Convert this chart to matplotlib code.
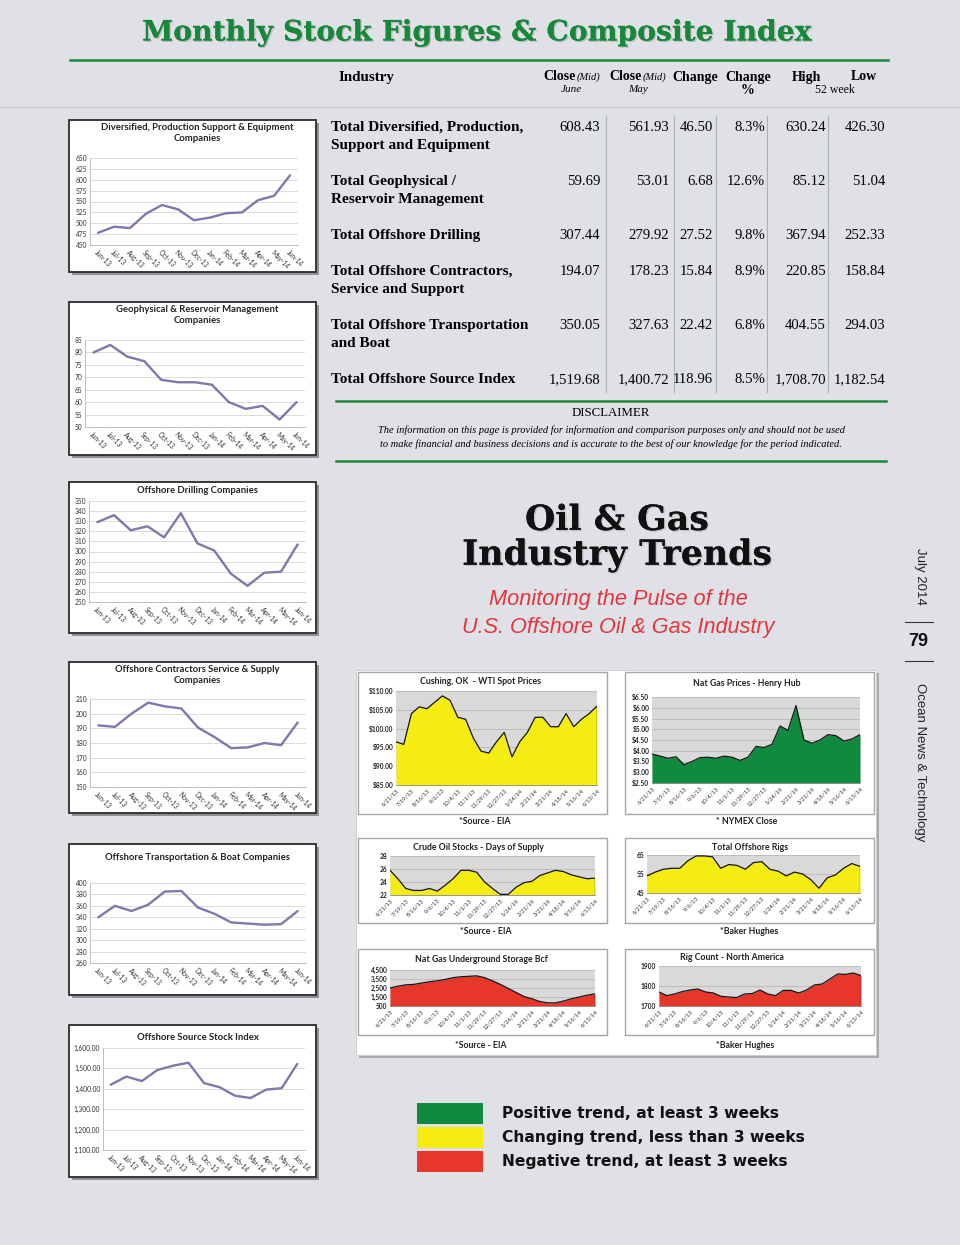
import matplotlib
matplotlib.use('Agg')
import matplotlib.pyplot as plt
from matplotlib.patches import Rectangle
from matplotlib.ticker import FuncFormatter
import matplotlib.patheffects as pe
import numpy as np

W, H = 960, 1245
BG = '#dfe1e6'

# ---------------- data ----------------
months = ['Jun-13', 'Jul-13', 'Aug-13', 'Sep-13', 'Oct-13', 'Nov-13', 'Dec-13',
          'Jan-14', 'Feb-14', 'Mar-14', 'Apr-14', 'May-14', 'Jun-14']
diversified = [478, 492, 489, 522, 542, 532, 507, 513, 523, 525, 553, 563, 610]
geophysical = [80, 83, 78.3, 76.5, 69, 68, 68, 67, 60, 57.3, 58.5, 53, 60]
drilling = [329, 336, 321, 325, 314, 338, 308, 301, 278, 266, 279, 280, 307]
contractors = [192, 191, 200, 207.5, 205, 203.5, 190.5, 184, 176.5, 177, 180, 178.5, 194]
transport = [340, 360, 351, 362, 385, 386, 357, 346, 331, 329, 327, 328, 351]
source_index = [1420, 1460, 1438, 1492, 1513, 1528, 1428, 1408, 1366, 1355, 1396, 1403, 1522]

table_rows = ['Total Diversified, Production,\nSupport and Equipment',
              'Total Geophysical /\nReservoir Management',
              'Total Offshore Drilling',
              'Total Offshore Contractors,\nService and Support',
              'Total Offshore Transportation\nand Boat',
              'Total Offshore Source Index']
close_june = [608.43, 59.69, 307.44, 194.07, 350.05, 1519.68]
close_may = [561.93, 53.01, 279.92, 178.23, 327.63, 1400.72]
change = [46.50, 6.68, 27.52, 15.84, 22.42, 118.96]
change_pct = [8.3, 12.6, 9.8, 8.9, 6.8, 8.5]
high_52 = [630.24, 85.12, 367.94, 220.85, 404.55, 1708.70]
low_52 = [426.30, 51.04, 252.33, 158.84, 294.03, 1182.54]

weekly_labels = ['6/21/13', '7/19/13', '8/16/13', '9/6/13', '10/4/13', '11/1/13', '11/29/13',
                 '12/27/13', '1/24/14', '2/21/14', '3/21/14', '4/18/14', '5/16/14', '6/13/14']
wti = [96.5, 95.8, 104, 105.8, 105.3, 107, 108.7, 107.5, 103, 102.5, 97.5, 94, 93.5, 96.5,
       99, 92.5, 96.5, 99, 103, 103, 100.5, 100.5, 104, 100.5, 102.5, 104, 106]
natgas = [3.85, 3.75, 3.65, 3.72, 3.35, 3.5, 3.68, 3.7, 3.65, 3.75, 3.7, 3.55, 3.7, 4.2,
          4.15, 4.3, 5.15, 4.95, 6.1, 4.5, 4.35, 4.5, 4.75, 4.7, 4.45, 4.55, 4.75]
crude_days = [25.8, 24.5, 23, 22.7, 22.7, 23, 22.6, 23.5, 24.5, 25.8, 25.8, 25.5, 24, 23,
              22.1, 22.1, 23.2, 23.9, 24.1, 25, 25.4, 25.8, 25.6, 25.1, 24.8, 24.5, 24.6]
offshore_rigs = [54, 56, 57.5, 58, 58, 62, 64.5, 64.5, 64, 58, 60, 59.5, 57.5, 61,
                 61.5, 57.5, 56.5, 54, 56, 55, 52, 47.5, 53, 54.5, 58, 60.5, 59]
storage = [2500, 2700, 2850, 2900, 3050, 3200, 3300, 3450, 3650, 3750, 3800, 3850, 3650, 3300,
           2900, 2450, 2000, 1550, 1300, 1000, 850, 850, 1050, 1300, 1500, 1700, 1850]
rig_na = [1770, 1752, 1760, 1772, 1780, 1785, 1770, 1765, 1748, 1745, 1742, 1760, 1762, 1780,
          1760, 1752, 1778, 1778, 1765, 1780, 1805, 1810, 1835, 1860, 1858, 1865, 1852]

legend_labels = ['Positive trend, at least 3 weeks',
                 'Changing trend, less than 3 weeks',
                 'Negative trend, at least 3 weeks']
GREEN = '#0f8a3e'
YELLOW = '#f5ed12'
RED = '#e6372a'
legend_colors = [GREEN, YELLOW, RED]

# ---------------- figure ----------------
fig = plt.figure(figsize=(9.6, 12.45), dpi=100, facecolor=BG)
ov = fig.add_axes([0, 0, 1, 1], zorder=0)
ov.set_xlim(0, W)
ov.set_ylim(H, 0)
ov.axis('off')


def px_axes(x0, y0, x1, y1, z=2):
    return fig.add_axes([x0 / W, 1 - y1 / H, (x1 - x0) / W, (y1 - y0) / H], zorder=z)


SERIF = 'Liberation Serif'

# Title
ov.text(478, 33, 'Monthly Stock Figures & Composite Index', ha='center', va='center',
        fontsize=20.3, fontweight='bold', family='DejaVu Serif', color='#17873a',
        path_effects=[pe.withSimplePatchShadow(offset=(1.0, -1.0), shadow_rgbFace='#888', alpha=0.4),
                      pe.Normal()])
ov.plot([70, 888], [60, 60], color='#1a8a3c', lw=1.8)
ov.plot([0, 960], [107, 107], color='#c4c7cc', lw=0.8)

# Table header
hs = 10
ov.text(339, 77, 'Industry', fontsize=10.8, fontweight='bold', family=SERIF, va='center')
ov.text(543, 77, 'Close', fontsize=hs, fontweight='bold', family=SERIF, va='center')
ov.text(577, 77.5, '(Mid)', fontsize=7.5, style='italic', family=SERIF, va='center')
ov.text(571, 90, 'June', fontsize=8, style='italic', family=SERIF, va='center', ha='center')
ov.text(609, 77, 'Close', fontsize=hs, fontweight='bold', family=SERIF, va='center')
ov.text(643, 77.5, '(Mid)', fontsize=7.5, style='italic', family=SERIF, va='center')
ov.text(638, 90, 'May', fontsize=8, style='italic', family=SERIF, va='center', ha='center')
ov.text(695, 77, 'Change', fontsize=hs, fontweight='bold', family=SERIF, va='center', ha='center')
ov.text(748, 77, 'Change', fontsize=hs, fontweight='bold', family=SERIF, va='center', ha='center')
ov.text(748, 90, '%', fontsize=hs, fontweight='bold', family=SERIF, va='center', ha='center')
ov.text(806, 77, 'High', fontsize=hs, fontweight='bold', family=SERIF, va='center', ha='center')
ov.text(864, 77, 'Low', fontsize=hs, fontweight='bold', family=SERIF, va='center', ha='center')
ov.text(835, 90, '52 week', fontsize=8.5, family=SERIF, va='center', ha='center')

row_y = [126, 180, 234, 270, 324, 378]
col_right = [600, 669, 713, 765, 826, 885]
for i, lab in enumerate(table_rows):
    y = row_y[i]
    for k, line in enumerate(lab.split('\n')):
        ov.text(331, y + 5 + 18 * k, line, fontsize=11, fontweight='bold', family=SERIF,
                va='baseline')
    vals = [f'{close_june[i]:,.2f}', f'{close_may[i]:,.2f}', f'{change[i]:,.2f}',
            f'{change_pct[i]:.1f}%', f'{high_52[i]:,.2f}', f'{low_52[i]:,.2f}']
    for xr, v in zip(col_right, vals):
        ov.text(xr, y + 5, v, fontsize=10.6, family=SERIF, va='baseline', ha='right')
for xv in [606, 674, 716, 767, 828]:
    ov.plot([xv, xv], [116, 392], color='#a9b3ad', lw=0.8)

ov.plot([336, 886], [401, 401], color='#1a8a3c', lw=1.8)
ov.text(611, 413, 'DISCLAIMER', fontsize=9.3, family=SERIF, ha='center', va='center')
ov.text(611, 430, 'The information on this page is provided for information and comparison purposes only and should not be used',
        fontsize=7.45, style='italic', family=SERIF, ha='center', va='center')
ov.text(611, 444, 'to make financial and business decisions and is accurate to the best of our knowledge for the period indicated.',
        fontsize=7.45, style='italic', family=SERIF, ha='center', va='center')
ov.plot([336, 886], [461, 461], color='#1a8a3c', lw=1.8)

# ---------------- left charts ----------------
LINE = '#7d79ab'
SMALL = 'Lato'


def left_chart(box, plot, title, values, ylim, ystep, fmt, title_y):
    x0, y0, x1, y1 = box
    ov.add_patch(Rectangle((x0 + 3, y0 + 3), x1 - x0, y1 - y0, fc='#8f9196', ec='none'))
    ov.add_patch(Rectangle((x0, y0), x1 - x0, y1 - y0, fc='white', ec='#2a2a2a', lw=1.3))
    ov.text((x0 + x1) / 2 + 5, title_y, title, ha='center', va='top', fontsize=6.8,
            fontweight='bold', family=SMALL, color='#222', linespacing=1.3)
    ax = px_axes(*plot)
    ax.set_facecolor('none')
    x = np.arange(len(values))
    ax.plot(x, values, color=LINE, lw=1.7, solid_joinstyle='round', solid_capstyle='round')
    ax.set_xlim(-0.5, len(values) - 0.5)
    ax.set_ylim(*ylim)
    ax.set_yticks(np.arange(ylim[0], ylim[1] + ystep / 2, ystep))
    ax.yaxis.set_major_formatter(FuncFormatter(fmt))
    ax.grid(axis='y', color='#d6d6d6', lw=0.6)
    ax.set_axisbelow(True)
    for s in ['top', 'right']:
        ax.spines[s].set_visible(False)
    for s in ['left', 'bottom']:
        ax.spines[s].set_color('#b5b5b5')
        ax.spines[s].set_linewidth(0.6)
    ax.tick_params(axis='y', length=0, labelsize=4.8, labelcolor='#333', pad=2)
    ax.set_xticks(x)
    ax.set_xticklabels(months, rotation=-45, ha='left', va='top', rotation_mode='anchor',
                       fontsize=4.8, color='#333', family=SMALL)
    ax.tick_params(axis='x', length=0, pad=3)
    for t in ax.get_yticklabels():
        t.set_family(SMALL)
    return ax


left_chart((69, 120, 316, 272), (90, 158, 298, 245),
           'Diversified, Production Support & Equipment\nCompanies', diversified,
           (450, 650), 25, lambda v, p: f'{v:.0f}', 123)
left_chart((69, 302, 316, 455), (85, 340, 305, 427),
           'Geophysical & Reservoir Management\nCompanies', geophysical,
           (50, 85), 5, lambda v, p: f'{v:.0f}', 305)
left_chart((69, 482, 316, 633), (89, 501, 306, 602),
           'Offshore Drilling Companies', drilling,
           (250, 350), 10, lambda v, p: f'{v:.0f}', 486)
left_chart((69, 662, 316, 813), (90, 699, 306, 787),
           'Offshore Contractors Service & Supply\nCompanies', contractors,
           (150, 210), 10, lambda v, p: f'{v:.0f}', 665)
left_chart((69, 844, 316, 995), (90, 883, 306, 963),
           'Offshore Transportation & Boat Companies', transport,
           (260, 400), 20, lambda v, p: f'{v:.0f}', 853)
left_chart((69, 1025, 316, 1177), (103, 1048, 305, 1150),
           'Offshore Source Stock Index', source_index,
           (1100, 1600), 100, lambda v, p: f'{v:,.2f}', 1033)

# ---------------- right header ----------------
ov.text(617, 520, 'Oil & Gas', ha='center', va='center', fontsize=25, fontweight='bold',
        family='DejaVu Serif', color='#111',
        path_effects=[pe.withSimplePatchShadow(offset=(1, -1), shadow_rgbFace='#999', alpha=0.4), pe.Normal()])
ov.text(617, 555, 'Industry Trends', ha='center', va='center', fontsize=25, fontweight='bold',
        family='DejaVu Serif', color='#111',
        path_effects=[pe.withSimplePatchShadow(offset=(1, -1), shadow_rgbFace='#999', alpha=0.4), pe.Normal()])
ov.text(618, 599, 'Monitoring the Pulse of the', ha='center', va='center', fontsize=15.7,
        style='italic', family='Liberation Sans', color='#e2363f')
ov.text(618, 628, 'U.S. Offshore Oil & Gas Industry', ha='center', va='center', fontsize=15.6,
        style='italic', family='Liberation Sans', color='#e2363f')

# side folio
ov.text(920, 576, 'July 2014', rotation=-90, ha='center', va='center', fontsize=9.5,
        family='Liberation Sans', color='#222')
ov.plot([905, 933], [622, 622], color='#333', lw=0.8)
ov.text(918, 641, '79', ha='center', va='center', fontsize=13, fontweight='bold',
        family='Liberation Sans', color='#111')
ov.plot([905, 933], [661, 661], color='#333', lw=0.8)
ov.text(920, 762, 'Ocean News & Technology', rotation=-90, ha='center', va='center',
        fontsize=9.5, family='Liberation Sans', color='#222')

# ---------------- trend panel ----------------
ov.add_patch(Rectangle((359, 673), 520, 385, fc='#a8aaaf', ec='none'))
ov.add_patch(Rectangle((356, 670), 520, 385, fc='white', ec='#cccccc', lw=0.6))


def trend_chart(box, plot, title, title_x, title_y, values, color, ylim, yticks, fmt,
                source, source_x, source_y):
    bx0, by0, bx1, by1 = box
    ov.add_patch(Rectangle((bx0, by0), bx1 - bx0, by1 - by0, fc='white', ec='#a5a5a5', lw=1.0))
    ov.text(title_x, title_y, title, ha='center', va='center', fontsize=6.3,
            fontweight='bold', family=SMALL, color='#222')
    ov.text(source_x, source_y, source, ha='center', va='center', fontsize=6.3,
            fontweight='bold', family=SMALL, color='#222')
    ax = px_axes(*plot)
    ax.set_facecolor('#d9d9d9')
    x = np.arange(len(values))
    ax.fill_between(x, values, ylim[0], color=color, lw=0, zorder=2)
    ax.plot(x, values, color='#151515', lw=0.9, zorder=3)
    ax.plot([x[-1], x[-1]], [ylim[0], values[-1]], color='#151515', lw=0.9, zorder=3)
    ax.set_xlim(0, len(values) - 1)
    ax.set_ylim(*ylim)
    ax.set_yticks(yticks)
    ax.yaxis.set_major_formatter(FuncFormatter(fmt))
    ax.grid(axis='y', color='#b8b8b8', lw=0.6, zorder=1)
    ax.set_axisbelow(True)
    for s in ['top', 'right', 'left']:
        ax.spines[s].set_visible(False)
    ax.spines['bottom'].set_color('#888')
    ax.spines['bottom'].set_linewidth(0.6)
    ax.tick_params(axis='y', length=0, labelsize=4.8, labelcolor='#222', pad=2)
    for t in ax.get_yticklabels():
        t.set_family(SMALL)
        t.set_fontweight('bold')
    ax.set_xticks(x[::2])
    ax.set_xticklabels(weekly_labels, rotation=45, ha='right', va='top', rotation_mode='anchor',
                       fontsize=4.2, color='#333', family=SMALL)
    ax.tick_params(axis='x', length=0, pad=2)
    return ax


trend_chart((358, 672, 607, 814), (396, 691, 597, 785), 'Cushing, OK  - WTI Spot Prices',
            481, 681, wti, YELLOW, (85, 110), [85, 90, 95, 100, 105, 110],
            lambda v, p: f'${v:.2f}', '*Source - EIA', 485, 822)
trend_chart((625, 672, 874, 814), (652, 697, 860, 783), 'Nat Gas Prices - Henry Hub',
            747, 683, natgas, GREEN, (2.5, 6.5), list(np.arange(2.5, 6.51, 0.5)),
            lambda v, p: f'${v:.2f}', '* NYMEX Close', 747, 822)
trend_chart((358, 838, 607, 923), (390, 856, 595, 895), 'Crude Oil Stocks - Days of Supply',
            478, 847, crude_days, YELLOW, (22, 28), [22, 24, 26, 28],
            lambda v, p: f'{v:.0f}', '*Source - EIA', 486, 931)
trend_chart((625, 838, 874, 923), (647, 855, 860, 893), 'Total Offshore Rigs',
            750, 847, offshore_rigs, YELLOW, (45, 65), [45, 55, 65],
            lambda v, p: f'{v:.0f}', '*Baker Hughes', 749, 932)
trend_chart((358, 949, 607, 1035), (390, 970, 595, 1006), 'Nat Gas Underground Storage Bcf',
            481, 959, storage, RED, (500, 4500), [500, 1500, 2500, 3500, 4500],
            lambda v, p: f'{v:,.0f}', '*Source - EIA', 481, 1045)
trend_chart((625, 949, 874, 1035), (659, 966, 861, 1006), 'Rig Count - North America',
            732, 957, rig_na, RED, (1700, 1900), [1700, 1800, 1900],
            lambda v, p: f'{v:.0f}', '*Baker Hughes', 745, 1045)

# ---------------- legend ----------------
for i, (lab, c) in enumerate(zip(legend_labels, legend_colors)):
    y0 = 1103 + 24 * i
    ov.add_patch(Rectangle((417, y0), 66, 21, fc=c, ec='none'))
    ov.text(502, y0 + 10.5, lab, fontsize=11.2, fontweight='bold', family='DejaVu Sans',
            va='center', ha='left', color='#111')

fig.savefig('out.png', dpi=100, facecolor=BG)
